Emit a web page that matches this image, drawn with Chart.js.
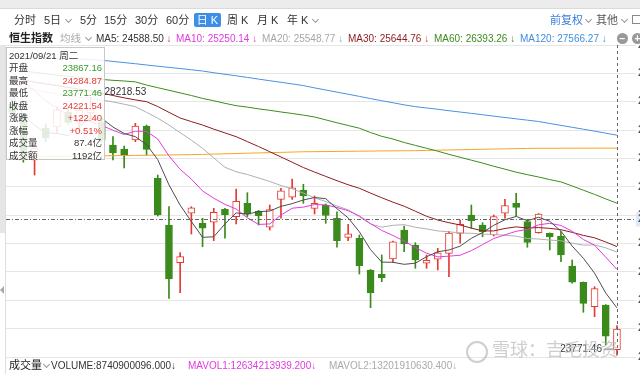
<!DOCTYPE html>
<html>
<head>
<meta charset="utf-8">
<script src="https://cdn.jsdelivr.net/npm/chart.js@4.4.0/dist/chart.umd.min.js"></script>
<style>
html, body { margin:0; padding:0; background:#fff; overflow:hidden; width:640px; height:374px;
  font-family:"Liberation Sans", Arial, "Noto Sans CJK SC", sans-serif; }
#wrap { position:relative; width:640px; height:374px; overflow:hidden; }
#kline { position:absolute; left:0; top:0; }
.t { position:absolute; white-space:nowrap; line-height:1; }
.chev { position:absolute; width:4px; height:4px; border-right:1px solid #999; border-bottom:1px solid #999; transform:rotate(45deg); }
.row { position:absolute; left:2px; right:2px; font-size:9.5px; line-height:1; white-space:nowrap; }
.row .v { position:absolute; right:0; }
</style>
</head>
<body>
<div id="wrap">
  <canvas id="kline" width="680" height="374"></canvas>

  <!-- top bar -->
  <div style="position:absolute;left:0;top:0;width:640px;height:8px;background:#ececec"></div>
  <div style="position:absolute;left:0;top:8px;width:640px;height:1px;background:#dadada"></div>
  <div class="t" style="left:14px;top:15px;font-size:11px;color:#333">分时</div>
  <div class="t" style="left:44px;top:15px;font-size:11px;color:#333">5日</div>
  <div class="chev" style="left:66px;top:17px"></div>
  <div class="t" style="left:80px;top:15px;font-size:11px;color:#333">5分</div>
  <div class="t" style="left:104px;top:15px;font-size:11px;color:#333">15分</div>
  <div class="t" style="left:135px;top:15px;font-size:11px;color:#333">30分</div>
  <div class="t" style="left:166px;top:15px;font-size:11px;color:#333">60分</div>
  <div class="t" style="left:194px;top:13px;width:27px;height:14px;line-height:14px;text-align:center;font-size:11px;color:#fff;background:#3d8ee6;border-radius:2px">日 K</div>
  <div class="t" style="left:227px;top:15px;font-size:11px;color:#333">周 K</div>
  <div class="t" style="left:257px;top:15px;font-size:11px;color:#333">月 K</div>
  <div class="t" style="left:287px;top:15px;font-size:11px;color:#333">年 K</div>
  <div class="chev" style="left:313px;top:17px"></div>
  <div class="t" style="left:550px;top:15px;font-size:11px;color:#3b7dd8">前复权</div>
  <div class="chev" style="left:586px;top:17px"></div>
  <div class="t" style="left:596px;top:15px;font-size:11px;color:#555">其他</div>
  <div class="chev" style="left:622px;top:17px"></div>
  <div style="position:absolute;left:632px;top:15px;width:9px;height:9px;border:1px solid #888;box-sizing:border-box"></div>

  <!-- MA legend row -->
  <div class="t" style="left:9px;top:33px;font-size:11px;font-weight:bold;color:#222">恒生指数</div>
  <div class="t" style="left:60px;top:33px;font-size:10.5px;color:#aaa">均线</div>
  <div class="chev" style="left:86px;top:35px"></div>
  <div class="t" style="left:96px;top:34px;font-size:10px;color:#333">MA5: 24588.50 <span style="color:#c8302a">↓</span></div>
  <div class="t" style="left:176px;top:34px;font-size:10px;color:#e03ce0">MA10: 25250.14 <span>↓</span></div>
  <div class="t" style="left:262px;top:34px;font-size:10px;color:#a8a8a8">MA20: 25548.77 <span style="color:#8aa0c0">↓</span></div>
  <div class="t" style="left:348px;top:34px;font-size:10px;color:#8e1b1b">MA30: 25644.76 <span style="color:#d8322a">↓</span></div>
  <div class="t" style="left:434px;top:34px;font-size:10px;color:#3d8b1e">MA60: 26393.26 <span>↓</span></div>
  <div class="t" style="left:520px;top:34px;font-size:10px;color:#3f8ee0">MA120: 27566.27 <span>↓</span></div>
  <div class="t" style="left:617px;top:33px;width:11px;height:11px;border-radius:50%;background:#999;color:#fff;font-size:10px;font-weight:bold;line-height:11px;text-align:center">−</div>
  <div class="t" style="left:632px;top:33px;width:11px;height:11px;border-radius:50%;background:#999;color:#fff;font-size:10px;font-weight:bold;line-height:11px;text-align:center">+</div>

  <!-- left handle -->
  <div style="position:absolute;left:0;top:45px;width:5px;height:188px;background:#e6e6e6"></div>
  <div style="position:absolute;left:5px;top:45px;width:1px;height:329px;background:#dedede"></div>
  <div style="position:absolute;left:0;top:286px;width:0;height:0;border-top:4px solid transparent;border-bottom:4px solid transparent;border-right:4px solid #aaa"></div>

  <!-- info box -->
  <div style="position:absolute;left:6px;top:47px;width:99px;height:113px;box-sizing:border-box;border:1px solid #c8c8c8;background:rgba(255,255,255,0.86)">
    <div class="row" style="top:3px;color:#333">2021/09/21 周二</div>
    <div class="row" style="top:15px;color:#333">开盘<span class="v" style="color:#3a9a2a">23867.16</span></div>
    <div class="row" style="top:27.5px;color:#333">最高<span class="v" style="color:#e53a33">24284.87</span></div>
    <div class="row" style="top:40px;color:#333">最低<span class="v" style="color:#3a9a2a">23771.46</span></div>
    <div class="row" style="top:52.5px;color:#333">收盘<span class="v" style="color:#e53a33">24221.54</span></div>
    <div class="row" style="top:65px;color:#333">涨跌<span class="v" style="color:#e53a33">+122.40</span></div>
    <div class="row" style="top:77.5px;color:#333">涨幅<span class="v" style="color:#e53a33">+0.51%</span></div>
    <div class="row" style="top:90px;color:#333">成交量<span class="v">87.4亿</span></div>
    <div class="row" style="top:102.5px;color:#333">成交额<span class="v">1192亿</span></div>
  </div>

  <!-- watermark -->
  <div style="position:absolute;left:466px;top:341px;width:18px;height:18px;border:2px solid rgba(190,190,190,0.75);border-radius:50%"></div>
  <div class="t" style="left:492px;top:341px;font-size:18px;color:rgba(190,190,190,0.75)">雪球：吉毛投资</div>

  <!-- volume legend -->
  <div class="t" style="left:9px;top:360px;font-size:11px;color:#222">成交量</div>
  <div class="chev" style="left:44px;top:362px"></div>
  <div class="t" style="left:51px;top:361px;font-size:10px;color:#333">VOLUME:8740900096.000<span>↓</span></div>
  <div class="t" style="left:188px;top:361px;font-size:10px;color:#e03ce0">MAVOL1:12634213939.200<span>↓</span></div>
  <div class="t" style="left:329px;top:361px;font-size:10px;color:#aaa">MAVOL2:13201910630.400<span>↓</span></div>
</div>

<script>
// 恒生指数 daily K, 2021/07/07 - 2021/09/21
var dates = ['2021/07/07','2021/07/08','2021/07/09','2021/07/12','2021/07/13','2021/07/14','2021/07/15','2021/07/16','2021/07/19','2021/07/20',
  '2021/07/21','2021/07/22','2021/07/23','2021/07/26','2021/07/27','2021/07/28','2021/07/29','2021/07/30','2021/08/02','2021/08/03',
  '2021/08/04','2021/08/05','2021/08/06','2021/08/09','2021/08/10','2021/08/11','2021/08/12','2021/08/13','2021/08/16','2021/08/17',
  '2021/08/18','2021/08/19','2021/08/20','2021/08/23','2021/08/24','2021/08/25','2021/08/26','2021/08/27','2021/08/30','2021/08/31',
  '2021/09/01','2021/09/02','2021/09/03','2021/09/06','2021/09/07','2021/09/08','2021/09/09','2021/09/10','2021/09/13','2021/09/14',
  '2021/09/15','2021/09/16','2021/09/17','2021/09/20','2021/09/21'];

var opens = [28100, 27900, 27138, 27690, 27707, 27965, 27800, 27950, 27793, 27397,
  27327, 27483, 27724, 26822, 26017, 25367, 26219, 26047, 26064, 26288,
  26160, 26391, 26259, 25978, 26460, 26495, 26621, 26305, 26362, 26133,
  25805, 25788, 25241, 25167, 25431, 25931, 25672, 25357, 25426, 25529,
  25874, 26190, 26017, 25845, 26219, 26391, 26074, 25884, 25874, 25827,
  25310, 25029, 24609, 24638, 23867.16];

var highs = [28190, 27930, 27400, 27760, 28060, 28050, 28090, 28218.53, 27830, 27540,
  27379, 27771, 27741, 26879, 26333, 25540, 26333, 26133, 26305, 26305,
  26638, 26574, 26270, 26362, 26650, 26810, 26719, 26517, 26380, 26246,
  26029, 25845, 25250, 25500, 25740, 26000, 25712, 25500, 25615, 25910,
  26103, 26362, 26057, 26190, 26460, 26564, 26115, 26215, 25880, 25902,
  25414, 25035, 24953, 24645, 24284.87];

var lows = [27880, 27100, 26879, 27450, 27600, 27750, 27640, 27850, 27440, 27138,
  27000, 27453, 27224, 26172, 24753, 24850, 25862, 25643, 25746, 25788,
  26034, 26160, 26017, 25931, 26133, 26460, 26391, 26207, 26046, 25633,
  25746, 25172, 24591, 25040, 25371, 25557, 25271, 25271, 25241, 25126,
  25702, 25960, 25815, 25827, 26133, 26172, 25633, 25874, 25586, 25384,
  25012, 24512, 24436, 23948, 23771.46];

var closes = [27960, 27153, 27344, 27515, 28003, 27788, 27996, 28004, 27490, 27259,
  27224, 27723, 27321, 26192, 25086, 25473, 26315, 25961, 26235, 26194,
  26426, 26204, 26179, 26283, 26605, 26660, 26517, 26391, 26181, 25745,
  25867, 25316, 24849, 25109, 25727, 25693, 25415, 25407, 25539, 25878,
  26028, 26090, 25901, 26163, 26353, 26320, 25716, 26205, 25813, 25502,
  25033, 24667, 24920, 24099, 24221.54];

var ma5 = [28263, 27928, 27734, 27609, 27595, 27561, 27729, 27861, 27856, 27707,
  27595, 27540, 27403, 27144, 26709, 26359, 26077, 25805, 25814, 26036,
  26226, 26204, 26248, 26257, 26339, 26386, 26449, 26491, 26471, 26299,
  26140, 25900, 25592, 25377, 25374, 25339, 25359, 25470, 25556, 25586,
  25653, 25788, 25887, 26012, 26107, 26165, 26091, 26151, 26081, 25911,
  25654, 25444, 25187, 24844, 24588.50];

var ma10 = [28656, 28490, 28336, 28159, 28032, 27912, 27828, 27798, 27733, 27651,
  27578, 27635, 27632, 27500, 27208, 26977, 26809, 26604, 26479, 26372,
  26293, 26141, 26027, 26036, 26188, 26306, 26326, 26369, 26364, 26319,
  26263, 26174, 26041, 25924, 25836, 25740, 25629, 25531, 25467, 25480,
  25496, 25574, 25679, 25784, 25847, 25909, 25940, 26019, 26047, 26009,
  25910, 25767, 25669, 25463, 25250.14];

var ma20 = [28450, 28400, 28350, 28310, 28280, 28250, 28220, 28195, 28172, 28140,
  28100, 28057, 27960, 27860, 27741, 27610, 27480, 27339, 27175, 27012,
  26935, 26888, 26829, 26768, 26698, 26642, 26568, 26487, 26421, 26346,
  26278, 26158, 26034, 25980, 26012, 26023, 25978, 25950, 25915, 25900,
  25880, 25874, 25860, 25854, 25841, 25824, 25784, 25775, 25757, 25745,
  25703, 25670, 25674, 25623, 25548.77];

var ma30 = [28560, 28520, 28480, 28450, 28420, 28390, 28360, 28330, 28293, 28250,
  28210, 28175, 28143, 28060, 27960, 27862, 27800, 27741, 27670, 27605,
  27540, 27455, 27370, 27281, 27190, 27100, 27008, 26930, 26855, 26781,
  26711, 26650, 26567, 26487, 26411, 26341, 26255, 26168, 26103, 26057,
  26017, 25963, 25916, 25915, 25957, 25985, 25965, 25973, 25959, 25936,
  25890, 25838, 25796, 25724, 25644.76];

var ma60 = [28690, 28670, 28650, 28625, 28600, 28580, 28560, 28545, 28527, 28512,
  28500, 28485, 28430, 28385, 28340, 28295, 28250, 28200, 28160, 28115,
  28075, 28050, 28020, 27995, 27966, 27940, 27912, 27880, 27830, 27780,
  27733, 27686, 27612, 27546, 27500, 27440, 27390, 27340, 27290, 27235,
  27185, 27135, 27085, 27030, 26980, 26928, 26885, 26845, 26800, 26760,
  26690, 26617, 26545, 26467, 26393.26];

var ma120 = [28931, 28922, 28913, 28905, 28895, 28887, 28878, 28869, 28858, 28838,
  28818, 28798, 28776, 28755, 28735, 28715, 28694, 28672, 28643, 28616,
  28590, 28562, 28533, 28505, 28478, 28450, 28421, 28382, 28345, 28308,
  28272, 28235, 28197, 28160, 28125, 28089, 28058, 28035, 28013, 27988,
  27965, 27942, 27919, 27894, 27871, 27848, 27825, 27802, 27768, 27735,
  27702, 27669, 27636, 27600, 27566.27];

// orange long average line (no legend entry in the picture)
var ma250 = [27190, 27193, 27195, 27198, 27200, 27203, 27205, 27208, 27210, 27212,
  27215, 27217, 27220, 27222, 27225, 27228, 27231, 27235, 27240, 27245,
  27250, 27255, 27260, 27265, 27270, 27275, 27280, 27282, 27284, 27286,
  27288, 27290, 27292, 27294, 27296, 27297, 27299, 27303, 27307, 27311,
  27315, 27319, 27323, 27327, 27330, 27334, 27337, 27340, 27340, 27341,
  27341, 27342, 27342, 27343, 27343];

// crosshair (mouse) position
var crossIndex = 54;
var crossPrice = 26120.6;

var upColor = '#e53a33';
var downColor = '#3a8a1c';

var isUp = closes.map(function(c, i){ return c >= opens[i]; });

function points(arr){
  return arr.map(function(v, i){ return {x: i, y: v}; });
}

function maLine(label, arr, color){
  return {
    type: 'line', label: label, data: points(arr),
    borderColor: color, borderWidth: 1, pointRadius: 0, tension: 0, order: -1
  };
}

//draws max/min labels and the crosshair
var overlay = {
  id: 'overlay',
  afterDatasetsDraw: function(chart){
    var ctx = chart.ctx, a = chart.chartArea;
    var x = chart.scales.x, y = chart.scales.y;
    ctx.save();
    ctx.font = '10px "Liberation Sans", Arial, sans-serif';
    ctx.fillStyle = '#333';
    ctx.strokeStyle = '#333';
    ctx.lineWidth = 1;

    //highest point
    var hi = 0, lo = 0;
    for (var i = 0; i < highs.length; i++){
      if (highs[i] > highs[hi]) hi = i;
      if (lows[i] < lows[lo]) lo = i;
    }
    var hx = x.getPixelForValue(hi), hy = y.getPixelForValue(highs[hi]);
    ctx.beginPath(); ctx.moveTo(hx + 3, hy - 5); ctx.lineTo(hx + 12, hy - 5); ctx.stroke();
    ctx.textBaseline = 'middle'; ctx.textAlign = 'left';
    ctx.fillText(highs[hi].toFixed(2), hx + 14, hy - 5);

    //lowest point
    var lx = x.getPixelForValue(lo), ly = y.getPixelForValue(lows[lo]);
    ctx.beginPath(); ctx.moveTo(lx - 13, ly - 6); ctx.lineTo(lx - 4, ly - 6); ctx.stroke();
    ctx.textAlign = 'right';
    ctx.fillText(lows[lo].toFixed(2), lx - 15, ly - 6);

    //crosshair
    var cx = Math.round(x.getPixelForValue(crossIndex)) + 0.5;
    var cy = Math.round(y.getPixelForValue(crossPrice)) + 0.5;
    ctx.strokeStyle = '#666';
    ctx.setLineDash([3, 3]);
    ctx.beginPath(); ctx.moveTo(cx, a.top); ctx.lineTo(cx, a.bottom); ctx.stroke();
    ctx.setLineDash([4, 2, 1, 2]);
    ctx.beginPath(); ctx.moveTo(a.left, cy); ctx.lineTo(a.right, cy); ctx.stroke();
    ctx.setLineDash([]);
    ctx.fillStyle = '#dce9f8';
    ctx.fillRect(a.right, cy - 7, 44, 14);
    ctx.fillStyle = '#333';
    ctx.textAlign = 'left';
    ctx.fillText(crossPrice.toFixed(2), a.right + 2, cy);
    ctx.restore();
  }
};

var chart = new Chart(document.getElementById('kline'), {
  data: {
    datasets: [
      maLine('MA5', ma5, '#4d4d4d'),
      maLine('MA10', ma10, '#e03ce0'),
      maLine('MA20', ma20, '#b0b0b0'),
      maLine('MA30', ma30, '#8e1b1b'),
      maLine('MA60', ma60, '#3d8b1e'),
      maLine('MA120', ma120, '#4a90e2'),
      maLine('MA250', ma250, '#f5a623'),
      {
        type: 'bar', label: 'body',
        data: opens.map(function(o, i){ return {x: i, y: [o, closes[i]]}; }),
        backgroundColor: isUp.map(function(u){ return u ? '#ffffff' : downColor; }),
        borderColor: isUp.map(function(u){ return u ? upColor : downColor; }),
        borderWidth: 1, borderSkipped: false, barThickness: 7, grouped: false, order: 1
      },
      {
        type: 'bar', label: 'wick',
        data: lows.map(function(l, i){ return {x: i, y: [l, highs[i]]}; }),
        backgroundColor: isUp.map(function(u){ return u ? upColor : downColor; }),
        borderWidth: 0, barThickness: 1, grouped: false, order: 2
      }
    ]
  },
  options: {
    responsive: false,
    animation: false,
    layout: { padding: { top: 45, left: 6, bottom: 17, right: 0 } },
    plugins: { legend: { display: false }, tooltip: { enabled: false } },
    scales: {
      x: { type: 'linear', min: -0.55, max: 55.7, offset: false, display: false },
      y: {
        position: 'right', min: 23741, max: 29121,
        afterFit: function(s){ s.width = 44; },
        border: { display: false },
        grid: { color: '#e6e6e6', drawTicks: false },
        ticks: {
          stepSize: 500, includeBounds: false, padding: 2, color: '#333',
          font: { size: 10, family: '"Liberation Sans", Arial, sans-serif' },
          callback: function(v){ return v.toFixed(2); }
        }
      }
    }
  },
  plugins: [overlay]
});
</script>
</body>
</html>
